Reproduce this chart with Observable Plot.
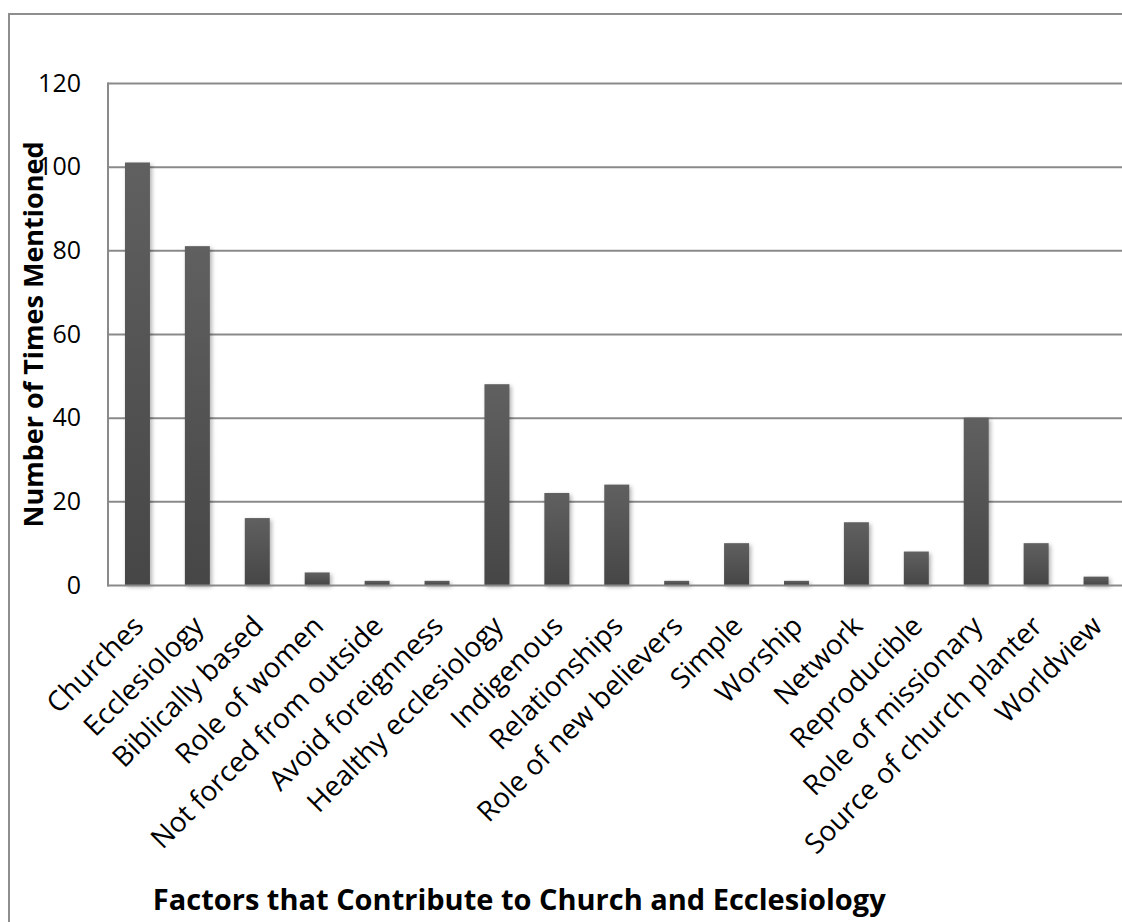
<!DOCTYPE html>
<html>
<head>
<meta charset="utf-8">
<script src="https://cdn.jsdelivr.net/npm/d3@7"></script>
<script src="https://cdn.jsdelivr.net/npm/@observablehq/plot@0.6"></script>
<style>
  html, body { margin: 0; padding: 0; background: #fff; overflow: hidden; }
  #wrap { position: relative; width: 1122px; height: 922px; overflow: hidden; }
  #wrap svg { position: absolute; left: 0; top: 0; max-width: none !important; }
  #border {
    position: absolute; left: 8px; top: 13px; width: 1400px; height: 1400px;
    border: 2px solid #8e8e8e; box-sizing: border-box; pointer-events: none;
  }
</style>
</head>
<body>
<div id="wrap"><div id="border"></div></div>
<script>
// Number of times each factor was mentioned
const factors = [
  "Churches", "Ecclesiology", "Biblically based", "Role of women",
  "Not forced from outside", "Avoid foreignness", "Healthy ecclesiology",
  "Indigenous", "Relationships", "Role of new believers", "Simple",
  "Worship", "Network", "Reproducible", "Role of missionary",
  "Source of church planter", "Worldview"
];
const mentions = [101, 81, 16, 3, 1, 1, 48, 22, 24, 1, 10, 1, 15, 8, 40, 10, 2];
const yTicks = [0, 20, 40, 60, 80, 100, 120];
const xTitle = "Factors that Contribute to Church and Ecclesiology";
const yTitle = "Number of Times Mentioned";

const data = factors.map((f, i) => ({factor: f, count: mentions[i]}));

const font = "'Open Sans', Lato, sans-serif";

// vertical gradient shared by all bars
const defs = () => {
  const d = d3.create("svg:defs");
  const g = d.append("linearGradient").attr("id", "barFill")
    .attr("x1", 0).attr("y1", 0).attr("x2", 0).attr("y2", 1);
  g.append("stop").attr("offset", "0%").attr("stop-color", "#606060");
  g.append("stop").attr("offset", "100%").attr("stop-color", "#464646");
  return d.node();
};

const chart = Plot.plot({
  width: 1130,
  height: 922,
  marginLeft: 107.5,
  marginRight: 4,
  marginTop: 83,
  marginBottom: 337,
  style: {fontFamily: font, color: "#000", background: "transparent"},
  x: {domain: factors, paddingInner: 0.583, paddingOuter: 0.2915, round: false, label: null},
  y: {domain: [0, 120], label: null},
  marks: [
    defs,
    Plot.gridY(yTicks.filter(d => d > 0), {stroke: "#8a8a8a", strokeOpacity: 1, strokeWidth: 2}),
    Plot.frame({anchor: "left", stroke: "#8a8a8a", strokeWidth: 2}),
    Plot.barY(data, {
      x: "factor", y: "count", fill: "url(#barFill)",
      imageFilter: "drop-shadow(2px 2px 2px rgba(0,0,0,0.3))"
    }),
    Plot.ruleY([0], {stroke: "#8a8a8a", strokeWidth: 2}),
    Plot.axisY({ticks: yTicks, tickSize: 0, tickPadding: 27, fontSize: 25, label: null}),
    Plot.axisX({tickSize: 0, tickRotate: -45, tickPadding: 36, dx: 1, fontSize: 28, label: null}),
    Plot.text([yTitle], {
      frameAnchor: "left", textAnchor: "middle", lineAnchor: "middle",
      rotate: -90, dx: -74, fontSize: 27, fontWeight: "bold", fill: "#000"
    }),
    Plot.text([xTitle], {
      frameAnchor: "bottom", textAnchor: "middle", lineAnchor: "middle",
      dx: -98, dy: 315, fontSize: 29, fontWeight: "bold", fill: "#000"
    })
  ]
});

document.getElementById("wrap").prepend(chart);
</script>
</body>
</html>
